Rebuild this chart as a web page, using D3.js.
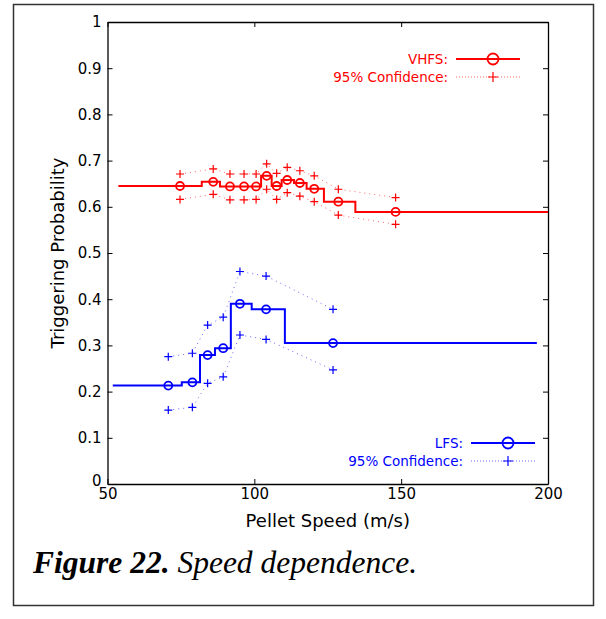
<!DOCTYPE html>
<html>
<head>
<meta charset="utf-8">
<script src="https://cdn.jsdelivr.net/npm/d3@7"></script>
<style>
  body { margin: 0; background: #fff; }
  svg text { font-family: "DejaVu Sans", sans-serif; }
  svg text.caption { font-family: "Liberation Serif", "Times New Roman", serif; }
</style>
</head>
<body>
<svg width="606" height="619"></svg>
<script>
// VHFS data (red): bin edges, bin probability, mean speed per bin, 95% bounds
const vhfsEdges = [53.7, 82.1, 88.3, 94, 98.5, 102.3, 105.9, 109.3, 113.5, 117.8, 123.7, 134.4, 200];
const vhfsProb = [0.645, 0.654, 0.644, 0.644, 0.644, 0.667, 0.645, 0.658, 0.6515, 0.639, 0.611, 0.589];
const vhfsSpeed = [74.7, 86.0, 91.7, 96.5, 100.6, 104.2, 107.6, 111.2, 115.5, 120.4, 128.6, 148.1];
const vhfsUpper = [0.671, 0.682, 0.671, 0.671, 0.671, 0.693, 0.6725, 0.6855, 0.678, 0.667, 0.638, 0.620];
const vhfsLower = [0.616, 0.627, 0.615, 0.615, 0.616, 0.638, 0.616, 0.6305, 0.623, 0.611, 0.582, 0.562];

// LFS data (blue)
const lfsEdges = [51.8, 75.3, 81.5, 86.6, 92, 99.1, 110.4, 196.2];
const lfsProb = [0.213, 0.220, 0.279, 0.294, 0.390, 0.378, 0.305];
const lfsSpeed = [70.7, 78.9, 84.1, 89.4, 95.1, 104.0, 126.8];
const lfsUpper = [0.2755, 0.283, 0.344, 0.361, 0.460, 0.450, 0.378];
const lfsLower = [0.160, 0.166, 0.218, 0.232, 0.3225, 0.313, 0.247];

const xTicks = [50, 100, 150, 200];
const yTicks = [0, 0.1, 0.2, 0.3, 0.4, 0.5, 0.6, 0.7, 0.8, 0.9, 1];

let svg = d3.select('svg');

// outer frame
svg.append('rect')
  .attr('x', 13.5).attr('y', 4.5)
  .attr('width', 580).attr('height', 601)
  .attr('fill', 'none')
  .attr('stroke', '#333')
  .attr('stroke-width', 1.5);

let x = d3.scaleLinear().domain([50, 200]).range([107.5, 548]);
let y = d3.scaleLinear().domain([0, 1]).range([484, 22]);

let g = svg.append('g');

// axes, ticks inside like matlab
g.append('g')
  .attr('transform', `translate(0,${y(0)})`)
  .call(d3.axisBottom(x).tickValues(xTicks).tickSizeInner(-5).tickSizeOuter(0).tickPadding(4).tickFormat(d3.format('d')));
g.append('g')
  .attr('transform', `translate(0,${y(1)})`)
  .call(d3.axisTop(x).tickValues(xTicks).tickSizeInner(-5).tickSizeOuter(0).tickFormat(''));
g.append('g')
  .attr('class', 'yaxis')
  .attr('transform', `translate(${x(50)},0)`)
  .call(d3.axisLeft(y).tickValues(yTicks).tickSizeInner(-5).tickSizeOuter(0).tickPadding(6).tickFormat(d => d === 0 || d === 1 ? d3.format('d')(d) : d3.format('.1f')(d)));
g.append('g')
  .attr('transform', `translate(${x(200)},0)`)
  .call(d3.axisRight(y).tickValues(yTicks).tickSizeInner(-5).tickSizeOuter(0).tickFormat(''));

g.selectAll('.domain').attr('stroke', '#000').attr('stroke-width', 1.3);
g.selectAll('.tick line').attr('stroke', '#000');
g.selectAll('.tick text').style('font-size', '15px').attr('fill', '#000');
// matlab puts the zero label a bit above the corner
g.select('.yaxis').selectAll('.tick text').filter(d => d === 0).attr('dy', '0.1em');

// axis labels
svg.append('text')
  .attr('x', (x(50) + x(200)) / 2).attr('y', 527)
  .attr('text-anchor', 'middle')
  .style('font-size', '18px')
  .text('Pellet Speed (m/s)');
svg.append('text')
  .attr('transform', `translate(64,${(y(0) + y(1)) / 2}) rotate(-90)`)
  .attr('text-anchor', 'middle')
  .style('font-size', '18px')
  .text('Triggering Probability');

function stairs(edges, probs) {
  let pts = [];
  probs.forEach((p, i) => {
    pts.push([edges[i], p]);
    pts.push([edges[i + 1], p]);
  });
  return pts;
}

let line = d3.line().x(d => x(d[0])).y(d => y(d[1]));

function plus(sel, cx, cy, s, color) {
  sel.append('path')
    .attr('d', `M${cx - s},${cy}H${cx + s}M${cx},${cy - s}V${cy + s}`)
    .attr('stroke', color)
    .attr('stroke-width', 1.2)
    .attr('fill', 'none');
}

function drawSeries(edges, probs, speeds, upper, lower, color) {
  let s = svg.append('g');
  [upper, lower].forEach(b => {
    s.append('path')
      .datum(speeds.map((v, i) => [v, b[i]]))
      .attr('d', line)
      .attr('fill', 'none')
      .attr('stroke', color)
      .attr('stroke-width', 1)
      .attr('stroke-dasharray', '1,4')
      .attr('opacity', 0.6);
    speeds.forEach((v, i) => plus(s, x(v), y(b[i]), 4, color));
  });
  s.append('path')
    .datum(stairs(edges, probs))
    .attr('d', line)
    .attr('fill', 'none')
    .attr('stroke', color)
    .attr('stroke-width', 2);
  s.selectAll('circle')
    .data(speeds)
    .join('circle')
    .attr('cx', d => x(d))
    .attr('cy', (d, i) => y(probs[i]))
    .attr('r', 4)
    .attr('fill', 'none')
    .attr('stroke', color)
    .attr('stroke-width', 1.8);
}

drawSeries(vhfsEdges, vhfsProb, vhfsSpeed, vhfsUpper, vhfsLower, '#ff0000');
drawSeries(lfsEdges, lfsProb, lfsSpeed, lfsUpper, lfsLower, '#0000ff');

// legends
function legend(x0, y0, name, color) {
  let l = svg.append('g');
  l.append('text').attr('x', x0).attr('y', y0 + 5).attr('text-anchor', 'end')
    .style('font-size', '13.5px').attr('fill', color).text(name);
  l.append('text').attr('x', x0).attr('y', y0 + 23).attr('text-anchor', 'end')
    .style('font-size', '13.5px').attr('fill', color).text('95% Confidence:');
  l.append('line').attr('x1', x0 + 8).attr('x2', x0 + 72).attr('y1', y0).attr('y2', y0)
    .attr('stroke', color).attr('stroke-width', 1.8);
  l.append('circle').attr('cx', x0 + 45).attr('cy', y0).attr('r', 5.5)
    .attr('fill', 'none').attr('stroke', color).attr('stroke-width', 1.8);
  l.append('line').attr('x1', x0 + 8).attr('x2', x0 + 72).attr('y1', y0 + 18).attr('y2', y0 + 18)
    .attr('stroke', color).attr('stroke-width', 1).attr('stroke-dasharray', '1,2').attr('opacity', 0.6);
  plus(l, x0 + 45, y0 + 18, 5, color);
}
legend(448, 59, 'VHFS:', '#ff0000');
legend(463, 443, 'LFS:', '#0000ff');

// caption
let cap = svg.append('text')
  .attr('class', 'caption')
  .attr('x', 33).attr('y', 573)
  .style('font-size', '31.5px')
  .style('font-style', 'italic');
cap.append('tspan').style('font-weight', 'bold').text('Figure 22.');
cap.append('tspan').text(' Speed dependence.');
</script>
</body>
</html>
